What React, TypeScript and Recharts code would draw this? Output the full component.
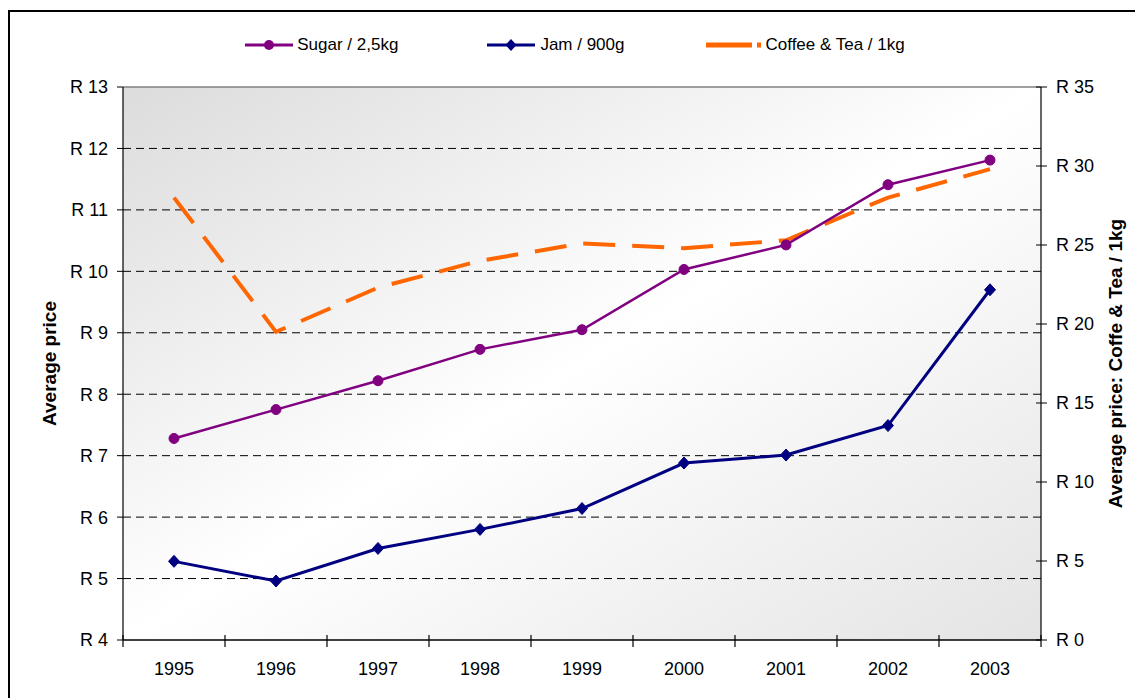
import React from 'react';
import { LineChart, Line, XAxis, YAxis, CartesianGrid, Legend, ReferenceLine } from 'recharts';

const years = ['1995', '1996', '1997', '1998', '1999', '2000', '2001', '2002', '2003'];
const sugarPrices = [7.28, 7.75, 8.22, 8.73, 9.05, 10.03, 10.43, 11.41, 11.81];
const jamPrices = [5.28, 4.96, 5.49, 5.8, 6.14, 6.88, 7.01, 7.49, 9.7];
const coffeeTeaPrices = [28.0, 19.5, 22.3, 24.0, 25.1, 24.8, 25.3, 28.0, 29.8];
const leftTicks = [4, 5, 6, 7, 8, 9, 10, 11, 12, 13];
const rightTicks = [0, 5, 10, 15, 20, 25, 30, 35];
const gridValues = [5, 6, 7, 8, 9, 10, 11, 12];
const sugarName = 'Sugar / 2,5kg';
const jamName = 'Jam / 900g';
const coffeeName = 'Coffee & Tea / 1kg';
const leftAxisTitle = 'Average price';
const rightAxisTitle = 'Average price: Coffe & Tea / 1kg';

const data = years.map((year, i) => ({
  year,
  sugar: sugarPrices[i],
  jam: jamPrices[i],
  coffee: coffeeTeaPrices[i],
}));

const CHART_W = 1134;
const CHART_H = 690;
const LEFT_W = 115;
const RIGHT_W = 101;
const PLOT_W = CHART_W - LEFT_W - RIGHT_W;
const HALF_BAND = PLOT_W / years.length / 2;

const SUGAR = '#800080';
const JAM = '#000080';
const COFFEE = '#FF6600';
const FONT = 17;
const TICK_FONT = 18;
const TITLE_FONT = 19;

const XTick = (props: any) => {
  const { x, y, payload, index } = props;
  return (
    <g>
      <line x1={x - HALF_BAND} x2={x - HALF_BAND} y1={y - 5} y2={y + 7} stroke="#000" strokeWidth={1.2} />
      {index === years.length - 1 && (
        <line x1={x + HALF_BAND} x2={x + HALF_BAND} y1={y - 5} y2={y + 7} stroke="#000" strokeWidth={1.2} />
      )}
      <text x={x} y={y + 35} textAnchor="middle" fontSize={TICK_FONT} fill="#000">
        {payload.value}
      </text>
    </g>
  );
};

const RTick = (props: any) => {
  const { x, y, payload } = props;
  return (
    <g>
      <line x1={x - 5} x2={x + 6} y1={y} y2={y} stroke="#000" strokeWidth={1} />
      <text x={x + 15} y={y} dy="0.35em" textAnchor="start" fontSize={TICK_FONT} fill="#000">
        {`R ${payload.value}`}
      </text>
    </g>
  );
};

const SugarDot = (p: any) => {
  if (p.cx == null || p.cy == null) return <g key={`s-${p.index}`} />;
  return <circle key={`s-${p.index}`} cx={p.cx} cy={p.cy} r={5} fill={SUGAR} stroke={SUGAR} />;
};

const JamDot = (p: any) => {
  if (p.cx == null || p.cy == null) return <g key={`j-${p.index}`} />;
  const { cx, cy } = p;
  return (
    <polygon
      key={`j-${p.index}`}
      points={`${cx},${cy - 6} ${cx + 5.5},${cy} ${cx},${cy + 6} ${cx - 5.5},${cy}`}
      fill={JAM}
      stroke={JAM}
    />
  );
};

const LegendContent = () => (
  <div
    style={{
      display: 'flex',
      justifyContent: 'center',
      alignItems: 'center',
      fontSize: FONT,
      color: '#000',
      height: 20,
      lineHeight: '20px',
    }}
  >
    <div style={{ display: 'flex', alignItems: 'center' }}>
      <svg width={48} height={12} style={{ display: 'block' }}>
        <line x1={0} x2={48} y1={6} y2={6} stroke={SUGAR} strokeWidth={3} />
        <circle cx={24} cy={6} r={5} fill={SUGAR} />
      </svg>
      <span style={{ marginLeft: 4 }}>{sugarName}</span>
    </div>
    <div style={{ display: 'flex', alignItems: 'center', marginLeft: 89 }}>
      <svg width={48} height={12} style={{ display: 'block' }}>
        <line x1={0} x2={48} y1={6} y2={6} stroke={JAM} strokeWidth={3} />
        <polygon points="24,0 29.5,6 24,12 18.5,6" fill={JAM} />
      </svg>
      <span style={{ marginLeft: 5 }}>{jamName}</span>
    </div>
    <div style={{ display: 'flex', alignItems: 'center', marginLeft: 82 }}>
      <svg width={56} height={12} style={{ display: 'block' }}>
        <line x1={0} x2={46} y1={6} y2={6} stroke={COFFEE} strokeWidth={5} />
        <rect x={51} y={3.5} width={4} height={5} fill={COFFEE} />
      </svg>
      <span style={{ marginLeft: 3 }}>{coffeeName}</span>
    </div>
  </div>
);

export default function App() {
  return (
    <div
      style={{
        position: 'relative',
        width: CHART_W,
        height: CHART_H,
        overflow: 'hidden',
        fontFamily: '"Liberation Sans", Arial, sans-serif',
        background: '#fff',
      }}
    >
      <div
        style={{
          position: 'absolute',
          top: 2,
          left: 0,
          width: 1400,
          height: 1000,
          border: '2px solid #000',
        }}
      />
      <div style={{ position: 'absolute', top: 0, left: 0 }}>
        <LineChart
          width={CHART_W}
          height={CHART_H}
          data={data}
          margin={{ top: 79, right: 0, bottom: 0, left: 0 }}
        >
          <defs>
            <linearGradient id="plotBg" x1="0" y1="0" x2="1" y2="1">
              <stop offset="0" stopColor="#dcdcdc" />
              <stop offset="0.5" stopColor="#ffffff" />
              <stop offset="1" stopColor="#e4e4e4" />
            </linearGradient>
          </defs>
          <CartesianGrid
            yAxisId="left"
            vertical={false}
            horizontalValues={gridValues}
            stroke="#000"
            strokeDasharray="8 5"
            fill="url(#plotBg)"
            fillOpacity={1}
          />
          <ReferenceLine yAxisId="left" y={13} stroke="#808080" strokeWidth={1.5} />
          <XAxis
            dataKey="year"
            interval={0}
            height={58}
            padding={{ left: HALF_BAND, right: HALF_BAND }}
            tickSize={0}
            tickMargin={0}
            tickLine={false}
            tick={<XTick />}
            axisLine={{ stroke: '#000', strokeWidth: 1.5 }}
          />
          <YAxis
            yAxisId="left"
            orientation="left"
            width={LEFT_W}
            domain={[4, 13]}
            ticks={leftTicks}
            interval={0}
            tickFormatter={(v: number) => `R ${v}`}
            tickSize={6}
            tickMargin={9}
            tick={{ fill: '#000', fontSize: TICK_FONT }}
            tickLine={{ stroke: '#000' }}
            axisLine={{ stroke: '#000', strokeWidth: 1.2 }}
            label={{
              value: leftAxisTitle,
              angle: -90,
              position: 'insideLeft',
              offset: 41,
              style: { textAnchor: 'middle', fontWeight: 'bold', fontSize: TITLE_FONT, fill: '#000' },
            }}
          />
          <YAxis
            yAxisId="right"
            orientation="right"
            width={RIGHT_W}
            domain={[0, 35]}
            ticks={rightTicks}
            interval={0}
            tickSize={0}
            tickMargin={0}
            tickLine={false}
            tick={<RTick />}
            axisLine={{ stroke: '#000', strokeWidth: 1.2 }}
            label={{
              value: rightAxisTitle,
              angle: -90,
              position: 'insideRight',
              offset: 27,
              style: { textAnchor: 'middle', fontWeight: 'bold', fontSize: TITLE_FONT, fill: '#000' },
            }}
          />
          <Legend
            layout="horizontal"
            verticalAlign="middle"
            align="center"
            content={<LegendContent />}
            wrapperStyle={{ top: 27, left: 0, width: CHART_W, height: 20 }}
          />
          <Line
            yAxisId="right"
            type="linear"
            dataKey="coffee"
            name={coffeeName}
            stroke={COFFEE}
            strokeWidth={4}
            strokeDasharray="32 17"
            dot={false}
            activeDot={false}
            isAnimationActive={false}
          />
          <Line
            yAxisId="left"
            type="linear"
            dataKey="jam"
            name={jamName}
            stroke={JAM}
            strokeWidth={3}
            dot={JamDot}
            activeDot={false}
            isAnimationActive={false}
          />
          <Line
            yAxisId="left"
            type="linear"
            dataKey="sugar"
            name={sugarName}
            stroke={SUGAR}
            strokeWidth={2.5}
            dot={SugarDot}
            activeDot={false}
            isAnimationActive={false}
          />
        </LineChart>
      </div>
    </div>
  );
}
